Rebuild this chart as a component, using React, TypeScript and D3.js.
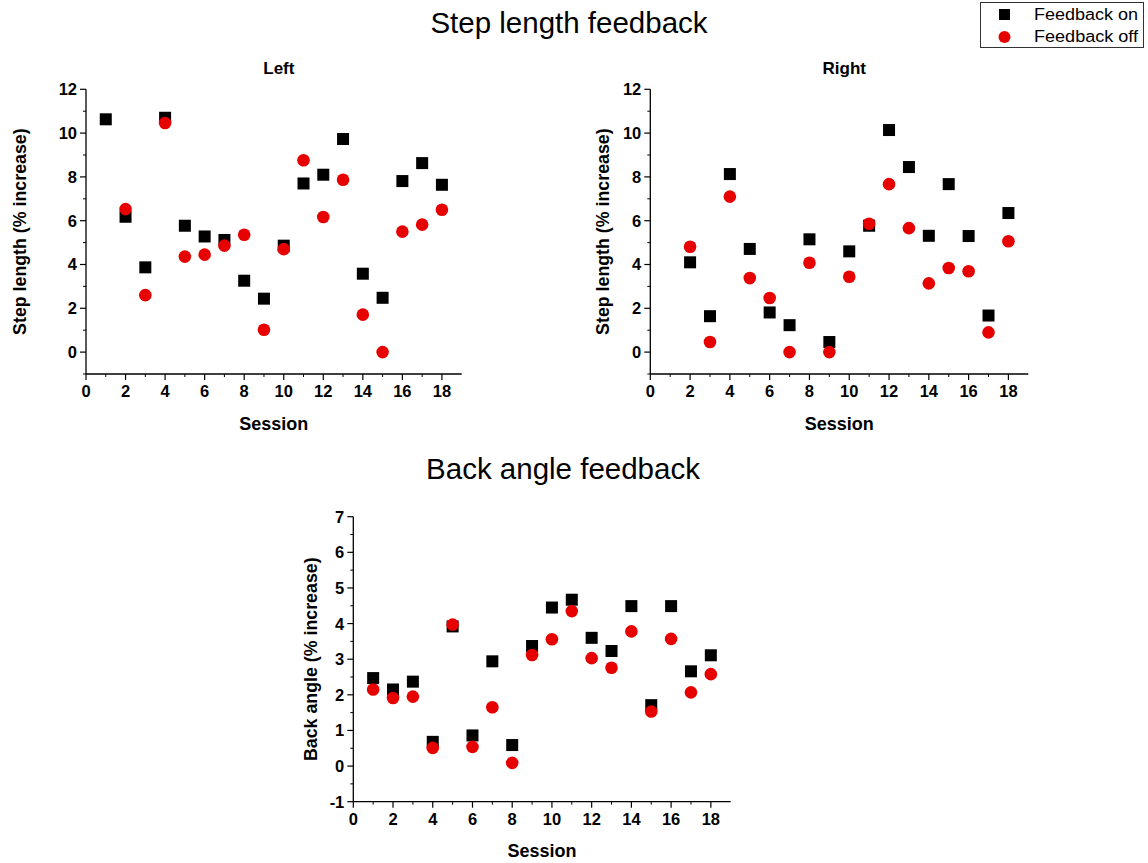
import React from "react";
import * as d3 from "d3";

const sessions = d3.range(1, 19);

// step length, left leg (NaN = no point)
const leftOn = [10.63, 6.18, 3.87, 10.7, 5.77, 5.28, 5.12, 3.26, 2.44, 4.86, 7.7, 8.1, 9.73, 3.58, 2.48, 7.81, 8.63, 7.64];
const leftOff = [NaN, 6.53, 2.6, 10.46, 4.36, 4.45, 4.86, 5.36, 1.02, 4.7, 8.76, 6.17, 7.87, 1.71, 0.0, 5.5, 5.82, 6.5];

// step length, right leg
const rightOn = [NaN, 4.1, 1.64, 8.13, 4.71, 1.81, 1.23, 5.15, 0.46, 4.6, 5.77, 10.14, 8.45, 5.31, 7.67, 5.3, 1.67, 6.35];
const rightOff = [NaN, 4.81, 0.46, 7.1, 3.38, 2.47, 0.0, 4.08, 0.0, 3.44, 5.86, 7.67, 5.66, 3.14, 3.84, 3.69, 0.9, 5.06];

// back angle
const backOn = [2.47, 2.15, 2.37, 0.68, 3.92, 0.86, 2.94, 0.59, 3.37, 4.45, 4.67, 3.6, 3.23, 4.49, 1.71, 4.49, 2.66, 3.11];
const backOff = [2.15, 1.91, 1.95, 0.51, 3.97, 0.54, 1.65, 0.09, 3.12, 3.56, 4.35, 3.03, 2.76, 3.78, 1.53, 3.57, 2.07, 2.58];

const xTicks = [0, 2, 4, 6, 8, 10, 12, 14, 16, 18];
const stepTicks = [0, 2, 4, 6, 8, 10, 12];
const backTicks = [-1, 0, 1, 2, 3, 4, 5, 6, 7];

const RED = "#e60000";
const FONT = "'Liberation Sans', Arial, sans-serif";

interface PanelProps {
  x0: number;
  x1: number;
  yTop: number;
  yBottom: number;
  yDomain: [number, number];
  yTicks: number[];
  yMinor: number[];
  on: number[];
  off: number[];
  yLabel: string;
  title?: string;
  labelX: number;
  sessionY: number;
}

const Panel: React.FC<PanelProps> = ({
  x0, x1, yTop, yBottom, yDomain, yTicks, yMinor, on, off, yLabel, title, labelX, sessionY,
}) => {
  const x = d3.scaleLinear().domain([0, 19]).range([x0, x1]);
  const y = d3.scaleLinear().domain(yDomain).range([yBottom, yTop]);
  const xMinor = d3.range(1, 19, 2);
  const midX = (x(0) + x(19)) / 2;
  const midY = (yTop + yBottom) / 2;
  const sq = 12;

  return (
    <g>
      {title && (
        <text x={midX + 5} y={yTop - 15} textAnchor="middle" fontWeight="bold" fontSize={17} fontFamily={FONT}>
          {title}
        </text>
      )}
      {/* axes */}
      <line x1={x0} x2={x0} y1={yTop} y2={yBottom} stroke="#000" strokeWidth={1.3} />
      <line x1={x0} x2={x1} y1={yBottom} y2={yBottom} stroke="#000" strokeWidth={1.3} />
      {yTicks.map((t) => (
        <g key={"yt" + t}>
          <line x1={x0 - 6} x2={x0} y1={y(t)} y2={y(t)} stroke="#000" strokeWidth={1.2} />
          <text x={x0 - 9} y={y(t)} dy="0.36em" textAnchor="end" fontWeight="bold" fontSize={16.5} fontFamily={FONT}>
            {t}
          </text>
        </g>
      ))}
      {yMinor.map((t) => (
        <line key={"ym" + t} x1={x0 - 3} x2={x0} y1={y(t)} y2={y(t)} stroke="#000" strokeWidth={1} />
      ))}
      {xTicks.map((t) => (
        <g key={"xt" + t}>
          <line x1={x(t)} x2={x(t)} y1={yBottom} y2={yBottom + 6} stroke="#000" strokeWidth={1.2} />
          <text x={x(t)} y={yBottom + 23} textAnchor="middle" fontWeight="bold" fontSize={16.5} fontFamily={FONT}>
            {t}
          </text>
        </g>
      ))}
      {xMinor.map((t) => (
        <line key={"xm" + t} x1={x(t)} x2={x(t)} y1={yBottom} y2={yBottom + 3} stroke="#000" strokeWidth={1} />
      ))}
      <text x={midX} y={sessionY} textAnchor="middle" fontWeight="bold" fontSize={18} fontFamily={FONT}>
        Session
      </text>
      <text
        transform={`translate(${labelX},${midY}) rotate(-90)`}
        textAnchor="middle"
        dy="0.35em"
        fontWeight="bold"
        fontSize={17.8}
        fontFamily={FONT}
      >
        {yLabel}
      </text>
      {/* points */}
      {sessions.map((s, i) =>
        isNaN(on[i]) ? null : (
          <rect key={"on" + s} x={x(s) - sq / 2} y={y(on[i]) - sq / 2} width={sq} height={sq} fill="#000" />
        ),
      )}
      {sessions.map((s, i) =>
        isNaN(off[i]) ? null : <circle key={"off" + s} cx={x(s)} cy={y(off[i])} r={6.3} fill={RED} />,
      )}
    </g>
  );
};

export default function App() {
  return (
    <svg
      width={1148}
      height={863}
      style={{ position: "absolute", left: 0, top: 0, background: "#fff" }}
    >
      <rect width={1148} height={863} fill="#fff" />
      <text x={569} y={33} textAnchor="middle" fontSize={29.5} fontFamily={FONT}>
        Step length feedback
      </text>
      <text x={563} y={479} textAnchor="middle" fontSize={29.5} fontFamily={FONT}>
        Back angle feedback
      </text>

      <Panel
        x0={86}
        x1={461.7}
        yTop={89.3}
        yBottom={374}
        yDomain={[-1, 12]}
        yTicks={stepTicks}
        yMinor={d3.range(-1, 12, 2)}
        on={leftOn}
        off={leftOff}
        yLabel="Step length (% increase)"
        title="Left"
        labelX={20}
        sessionY={430}
      />
      <Panel
        x0={650.3}
        x1={1028.3}
        yTop={89.3}
        yBottom={374}
        yDomain={[-1, 12]}
        yTicks={stepTicks}
        yMinor={d3.range(-1, 12, 2)}
        on={rightOn}
        off={rightOff}
        yLabel="Step length (% increase)"
        title="Right"
        labelX={603}
        sessionY={430}
      />
      <Panel
        x0={353.3}
        x1={730.7}
        yTop={516.7}
        yBottom={801.7}
        yDomain={[-1, 7]}
        yTicks={backTicks}
        yMinor={d3.range(-0.5, 7, 1)}
        on={backOn}
        off={backOff}
        yLabel="Back angle (% increase)"
        labelX={311}
        sessionY={857}
      />

      {/* legend */}
      <g fontFamily={FONT}>
        <rect x={980.5} y={2.5} width={163} height={45} fill="#fff" stroke="#333" strokeWidth={1} />
        <rect x={999} y={9} width={11} height={11} fill="#000" />
        <text x={1034} y={20} fontSize={16} textLength={104} lengthAdjust="spacingAndGlyphs">Feedback on</text>
        <circle cx={1004.5} cy={37} r={6} fill={RED} />
        <text x={1034} y={42} fontSize={16} textLength={104} lengthAdjust="spacingAndGlyphs">Feedback off</text>
      </g>
    </svg>
  );
}
